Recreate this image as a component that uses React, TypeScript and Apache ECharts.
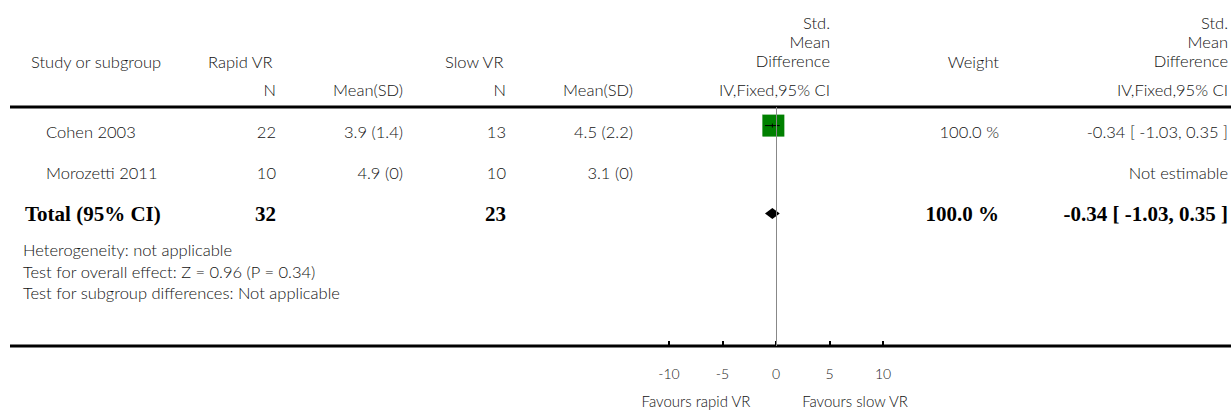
import React, { useEffect, useRef } from "react";
import * as echarts from "echarts";

// ---- data ----
const studies = ["Cohen 2003", "Morozetti 2011"];
const rapidN = ["22", "10"];
const rapidMeanSD = ["3.9 (1.4)", "4.9 (0)"];
const slowN = ["13", "10"];
const slowMeanSD = ["4.5 (2.2)", "3.1 (0)"];
const smd: (number | null)[] = [-0.34, null];
const ciLow: (number | null)[] = [-1.03, null];
const ciHigh: (number | null)[] = [0.35, null];
const weightPct: (number | null)[] = [100, null];
const weightText = ["100.0 %", ""];
const effectText = ["-0.34 [ -1.03, 0.35 ]", "Not estimable"];

const totalLabel = "Total (95% CI)";
const totalRapidN = "32";
const totalSlowN = "23";
const totalSmd = -0.34;
const totalLow = -1.03;
const totalHigh = 0.35;
const totalWeight = "100.0 %";
const totalText = "-0.34 [ -1.03, 0.35 ]";

const footnotes = [
  "Heterogeneity: not applicable",
  "Test for overall effect: Z = 0.96 (P = 0.34)",
  "Test for subgroup differences: Not applicable",
];
const xTicks = [-10, -5, 0, 5, 10];
const favLeft = "Favours rapid VR";
const favRight = "Favours slow VR";

// ---- styles / layout ----
const FONT = "Lato, 'Open Sans', sans-serif";
const SERIF = "'Liberation Serif', 'DejaVu Serif', serif";
const TXT = "#111";
const FS = 16.5;
const W = 300;

const COL = {
  study: 46,
  rapidN: 276,
  rapidMean: 403,
  slowN: 506,
  slowMean: 633,
  mid: 830,
  weight: 999,
  effect: 1228,
};

export default function App() {
  const ref = useRef<HTMLDivElement>(null);
  useEffect(() => {
    document.body.style.margin = "0";
    const chart = echarts.init(ref.current!, null, { renderer: "svg" });

    const t = (x: number, y: number, text: string, align: string, extra: any = {}) => ({
      type: "text",
      x,
      y,
      style: {
        text,
        x: 0,
        y: 0,
        textAlign: align,
        textVerticalAlign: "middle",
        fill: TXT,
        font: `${W} ${FS}px ${FONT}`,
        ...extra,
      },
      silent: true,
    });

    const rows = [0, 1, 2];

    const renderItem = (params: any, api: any) => {
      const i = params.dataIndex;
      const y = api.coord([0, i])[1];
      const children: any[] = [];
      const tx = (x: number, text: string, align: string, extra: any = {}) => ({
        type: "text",
        style: {
          text,
          x,
          y,
          align,
          verticalAlign: "middle",
          fill: TXT,
          font: `${W} ${FS}px ${FONT}`,
          ...extra,
        },
      });
      if (i < studies.length) {
        children.push(tx(COL.study, studies[i], "left"));
        children.push(tx(COL.rapidN, rapidN[i], "right"));
        children.push(tx(COL.rapidMean, rapidMeanSD[i], "right"));
        children.push(tx(COL.slowN, slowN[i], "right"));
        children.push(tx(COL.slowMean, slowMeanSD[i], "right"));
        if (weightText[i]) children.push(tx(COL.weight, weightText[i], "right"));
        children.push(tx(COL.effect, effectText[i], "right"));
        const est = smd[i];
        if (est != null) {
          const pe = api.coord([est, i]);
          const lo = api.coord([ciLow[i] as number, i])[0];
          const hi = api.coord([ciHigh[i] as number, i])[0];
          const size = 22 * Math.sqrt((weightPct[i] as number) / 100);
          const cy = pe[1] - 6;
          children.push({
            type: "rect",
            shape: { x: pe[0] - size / 2 + 1, y: cy - size / 2, width: size, height: size },
            style: { fill: "#008000" },
          });
          children.push({
            type: "line",
            shape: { x1: lo, y1: cy, x2: hi, y2: cy },
            style: { stroke: "#000", lineWidth: 1 },
          });
          children.push({
            type: "line",
            shape: { x1: pe[0], y1: cy - 2, x2: pe[0], y2: cy + 2 },
            style: { stroke: "#000", lineWidth: 1 },
          });
        }
      } else {
        const B = { font: `bold 21px ${SERIF}`, fill: "#000" };
        children.push(tx(25, totalLabel, "left", B));
        children.push(tx(COL.rapidN, totalRapidN, "right", B));
        children.push(tx(COL.slowN, totalSlowN, "right", B));
        children.push(tx(COL.weight, totalWeight, "right", B));
        children.push(tx(COL.effect, totalText, "right", B));
        const c = api.coord([totalSmd, i]);
        const lo = api.coord([totalLow, i])[0];
        const hi = api.coord([totalHigh, i])[0];
        children.push({
          type: "polygon",
          shape: {
            points: [
              [lo, c[1]],
              [c[0], c[1] - 5.5],
              [hi, c[1]],
              [c[0], c[1] + 5.5],
            ],
          },
          style: { fill: "#000" },
        });
      }
      return { type: "group", children };
    };

    const graphic: any[] = [
      // header
      t(31, 62, "Study or subgroup", "left"),
      t(208, 62, "Rapid VR", "left"),
      t(445, 62, "Slow VR", "left"),
      t(COL.weight, 62, "Weight", "right"),
      t(COL.mid, 23, "Std.", "right"),
      t(COL.mid, 42, "Mean", "right"),
      t(COL.mid, 61, "Difference", "right"),
      t(COL.effect, 23, "Std.", "right"),
      t(COL.effect, 42, "Mean", "right"),
      t(COL.effect, 61, "Difference", "right"),
      t(COL.rapidN, 90, "N", "right"),
      t(COL.rapidMean, 90, "Mean(SD)", "right"),
      t(COL.slowN, 90, "N", "right"),
      t(COL.slowMean, 90, "Mean(SD)", "right"),
      t(COL.mid, 90, "IV,Fixed,95% CI", "right"),
      t(COL.effect, 90, "IV,Fixed,95% CI", "right"),
      // rules
      {
        type: "line",
        shape: { x1: 10, y1: 107, x2: 1231, y2: 107 },
        style: { stroke: "#000", lineWidth: 3 },
        silent: true,
      },
      {
        type: "line",
        shape: { x1: 10, y1: 346, x2: 1231, y2: 346 },
        style: { stroke: "#000", lineWidth: 3 },
        silent: true,
      },
      // footnotes
      ...footnotes.map((f, k) => t(23, 250 + k * 21.5, f, "left")),
      // favours labels
      t(696, 401, favLeft, "center", { font: `${W} 15px ${FONT}` }),
      t(855, 401, favRight, "center", { font: `${W} 15px ${FONT}` }),
    ];

    chart.setOption({
      animation: false,
      grid: { left: 669, right: 1231 - 883, top: 107, bottom: 412 - 346 },
      xAxis: {
        type: "value",
        min: -10,
        max: 10,
        interval: 5,
        axisLine: { show: false, onZero: false },
        splitLine: { show: false },
        axisTick: { show: true, inside: true, length: 5, lineStyle: { color: "#000", width: 2 } },
        axisLabel: {
          margin: 20,
          color: "#222",
          fontFamily: FONT,
          fontWeight: W,
          fontSize: 14,
          customValues: xTicks,
          formatter: (v: number) => String(v),
        },
      },
      yAxis: {
        type: "value",
        min: -0.6,
        max: 239 / 41 - 0.6,
        inverse: true,
        show: false,
      },
      series: [
        {
          type: "custom",
          clip: false,
          renderItem,
          data: rows.map((r) => [0, r]),
          encode: { x: 0, y: 1 },
          markLine: {
            silent: true,
            symbol: "none",
            label: { show: false },
            lineStyle: { color: "#888", width: 1, type: "solid" },
            data: [{ xAxis: 0 }],
          },
          z: 3,
        },
      ],
      graphic,
    });
    return () => chart.dispose();
  }, []);
  return <div ref={ref} style={{ width: 1231, height: 412 }} />;
}
